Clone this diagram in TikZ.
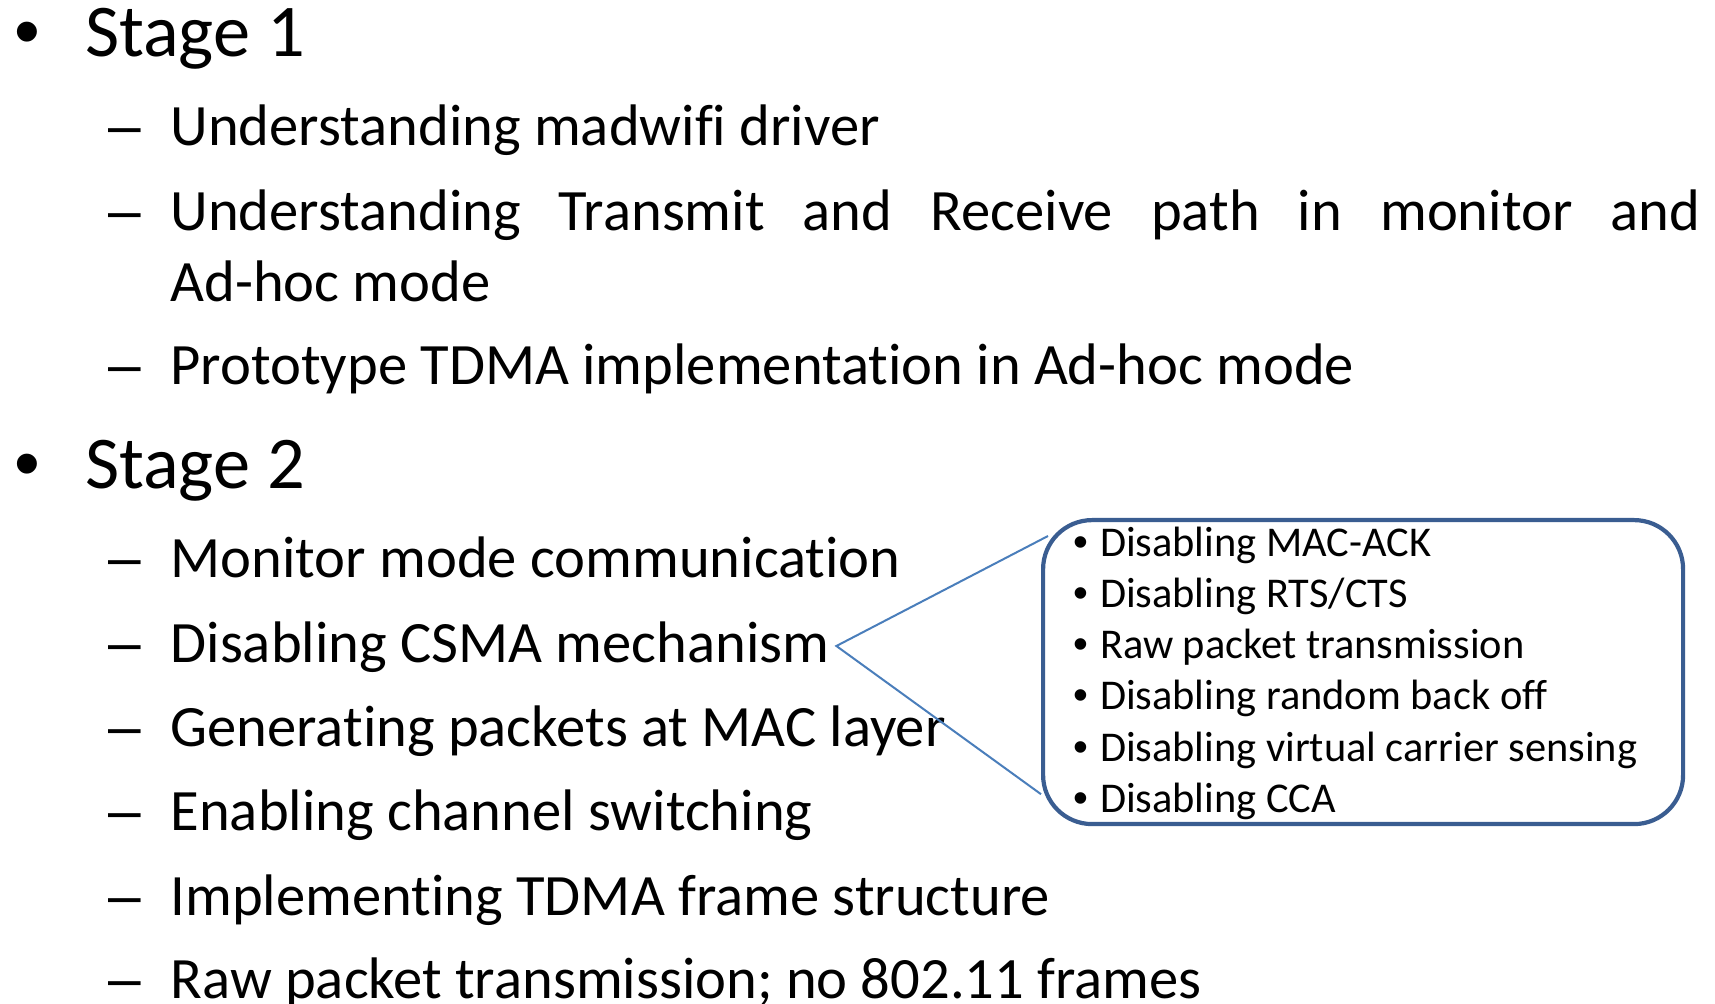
\documentclass[tikz,border=0pt]{standalone}
\usepackage{fontspec}
\setmainfont{Carlito}[Ligatures=NoCommon]
\newfontfamily\bulletfont{Liberation Sans}
\usetikzlibrary{calc}
\definecolor{boxblue}{RGB}{58,93,145}
\definecolor{calloutblue}{RGB}{74,126,187}
\begin{document}
\begin{tikzpicture}[x=0.5pt,y=-0.5pt,
  txt/.style={anchor=base west,inner sep=0pt,outer sep=0pt},
  lvlone/.style={txt,font=\fontsize{37.2}{44}\selectfont},
  lvltwo/.style={txt,font=\fontsize{29.3}{35}\selectfont},
  boxtxt/.style={txt,font=\fontsize{21.2}{25}\selectfont},
  bigdot/.style={txt,font=\bulletfont\fontsize{36.8}{44}\selectfont},
  dashmark/.style={txt,font=\bulletfont\fontsize{29.3}{35}\selectfont},
  smalldot/.style={txt,font=\bulletfont\fontsize{21.2}{25}\selectfont},
  callout/.style={draw=boxblue,line width=2.1pt,rounded corners=24.5pt,
    minimum width=320pt,minimum height=152pt,anchor=north west,inner sep=0pt},
  pointer/.style={draw=calloutblue,line width=1pt}]
\clip (0,0) rectangle (1715,1004);
\fill[white] (0,0) rectangle (1715,1004);

% Stage 1
\node[bigdot] (b1) at (15,57) {•};
\node[lvlone] (s1) at (85,57) {Stage 1};
\node[dashmark] (d11) at (108,145.5) {–};
\node[lvltwo] (t11) at (170.6,145.5) {Understanding madwifi driver};
\node[dashmark] (d12) at (108,231) {–};
\node[lvltwo] (t12) at (170.6,231)
  {\makebox[765pt][s]{Understanding Transmit and Receive path in monitor and}};
\node[lvltwo] (t12b) at (170.6,302) {Ad-hoc mode};
\node[dashmark] (d13) at (108,385) {–};
\node[lvltwo] (t13) at (170.6,385) {Prototype TDMA implementation in Ad-hoc mode};

% Stage 2
\node[bigdot] (b2) at (15,489) {•};
\node[lvlone] (s2) at (85,489) {Stage 2};
\node[dashmark] (d21) at (108,577.5) {–};
\node[lvltwo] (t21) at (170.6,577.5) {Monitor mode communication};
\node[dashmark] (d22) at (108,663) {–};
\node[lvltwo] (t22) at (170.6,663) {Disabling CSMA mechanism};
\node[dashmark] (d23) at (108,747) {–};
\node[lvltwo] (t23) at (170.6,747) {Generating packets at MAC layer};
\node[dashmark] (d24) at (108,831) {–};
\node[lvltwo] (t24) at (170.6,831) {Enabling channel switching};
\node[dashmark] (d25) at (108,915.5) {–};
\node[lvltwo] (t25) at (170.6,915.5) {Implementing TDMA frame structure};
\node[dashmark] (d26) at (108,998.6) {–};
\node[lvltwo] (t26) at (170.6,998.6) {Raw packet transmission; no 802.11 frames};

% Callout box with the CSMA details
\node[callout] (box) at (1041,518) {};
\foreach \y/\lbl [count=\i] in {557/{Disabling MAC-ACK}, 608/{Disabling RTS/CTS},
    659/{Raw packet transmission}, 710/{Disabling random back off},
    762/{Disabling virtual carrier sensing}, 813/{Disabling CCA}} {
  \node[smalldot] (bd\i) at (1073,\y) {•};
  \node[boxtxt] (bt\i) at (1100,\y) {\lbl};
}

% Pointer from the CSMA item to the box
\coordinate (apex) at ($(t22.base east)+(7,-17)$);
\draw[pointer] ([shift={(7,18)}]box.north west) -- (apex)
  -- ([shift={(0,-32)}]box.south west);
\end{tikzpicture}
\end{document}
